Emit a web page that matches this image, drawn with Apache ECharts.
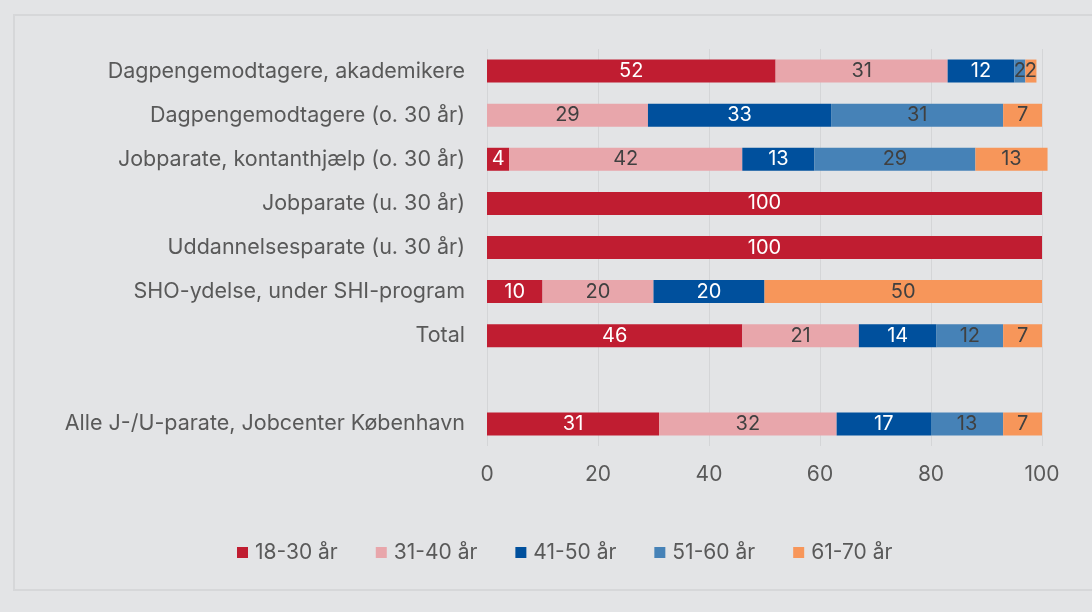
<!DOCTYPE html>
<html>
<head>
<meta charset="utf-8">
<script src="https://cdn.jsdelivr.net/npm/echarts@6/dist/echarts.min.js"></script>
<style>
  html, body { margin: 0; padding: 0; background: #e3e4e6; }
  #frame { position: absolute; left: 13px; top: 14px; width: 1079px; height: 577px; border-left: 2px solid #d6d7d9; border-top: 2px solid #d6d7d9; border-bottom: 2px solid #d6d7d9; box-sizing: border-box; }
  #chart { position: absolute; left: 0; top: 0; width: 1092px; height: 612px; }
</style>
</head>
<body>
<div id="frame"></div>
<div id="chart"></div>
<script>
// kategorier (oppefra og ned), tom række som mellemrum
var categories = [
  'Dagpengemodtagere, akademikere',
  'Dagpengemodtagere (o. 30 år)',
  'Jobparate, kontanthjælp (o. 30 år)',
  'Jobparate (u. 30 år)',
  'Uddannelsesparate (u. 30 år)',
  'SHO-ydelse, under SHI-program',
  'Total',
  '',
  'Alle J-/U-parate, Jobcenter København'
]
var seriesNames = ['18-30 år', '31-40 år', '41-50 år', '51-60 år', '61-70 år']
var age18_30 = [52, null, 4, 100, 100, 10, 46, null, 31]
var age31_40 = [31, 29, 42, null, null, 20, 21, null, 32]
var age41_50 = [12, 33, 13, null, null, 20, 14, null, 17]
var age51_60 = [2, 31, 29, null, null, null, 12, null, 13]
var age61_70 = [2, 7, 13, null, null, 50, 7, null, 7]
var xTicks = [0, 20, 40, 60, 80, 100]

var colors = ['#c01d31', '#e8a6ab', '#00509d', '#4682b7', '#f7965a']
var labelColors = ['#ffffff', '#404040', '#ffffff', '#404040', '#404040']
var allData = [age18_30, age31_40, age41_50, age51_60, age61_70]

var myChart = echarts.init(document.getElementById('chart'))

var series = []
for (var i = 0; i < seriesNames.length; i++) {
  series.push({
    name: seriesNames[i],
    type: 'bar',
    stack: 'total',
    clip: false,
    barWidth: 23,
    itemStyle: { color: colors[i] },
    label: {
      show: true,
      position: 'inside',
      color: labelColors[i],
      fontFamily: 'Inter',
      fontSize: 20
    },
    emphasis: { disabled: true },
    data: allData[i]
  })
}

var option = {
  animation: false,
  textStyle: { fontFamily: 'Inter' },
  grid: { left: 487, right: 50, top: 49, bottom: 166, containLabel: false },
  legend: {
    data: seriesNames,
    top: 537,
    left: 232,
    itemWidth: 11,
    itemHeight: 11,
    itemGap: 38,
    icon: 'rect',
    textStyle: { color: '#595959', fontSize: 21, fontFamily: 'Inter', padding: [0, 0, 0, 2] }
  },
  xAxis: {
    type: 'value',
    min: xTicks[0],
    max: xTicks[xTicks.length - 1],
    interval: 20,
    axisLine: { show: false },
    axisTick: { show: false },
    axisLabel: { color: '#595959', fontSize: 21, margin: 18, fontFamily: 'Inter' },
    splitLine: { lineStyle: { color: '#d4d5d7', width: 1 } }
  },
  yAxis: {
    type: 'category',
    inverse: true,
    data: categories,
    axisLine: { show: false },
    axisTick: { show: false },
    axisLabel: { color: '#595959', fontSize: 21.5, margin: 22, fontFamily: 'Inter' }
  },
  series: series
}

myChart.setOption(option)
</script>
</body>
</html>
